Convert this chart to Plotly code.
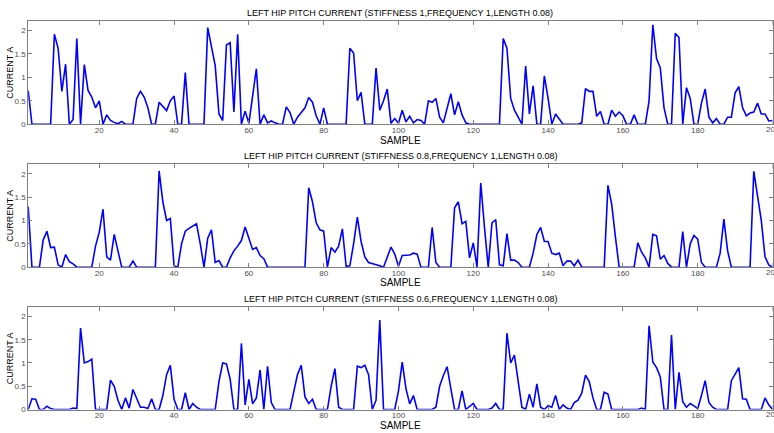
import plotly.graph_objects as go

# Sample index shared by all three recordings
samples = list(range(1, 201))

# Left hip pitch current (A), stiffness 1.0
current_stiff_1_0 = [
    0.72, 0, 0, 0, 0, 0, 0, 1.92, 1.62, 0.7,
    1.28, 0, 0.1, 1.83, 0, 1.27, 0.72, 0.58, 0.35, 0.5,
    0, 0.2, 0.08, 0.04, 0.01, 0.06, 0, 0, 0, 0.55,
    0.7, 0.58, 0.35, 0, 0, 0.47, 0.38, 0.29, 0.5, 0.6,
    0, 0, 1.1, 0, 0, 0, 0, 0, 2.06, 1.67,
    1.25, 0.22, 0.08, 1.69, 1.74, 0.26, 1.92, 0, 0.28, 0.02,
    0.6, 1.18, 0, 0.2, 0.03, 0.07, 0.03, 0, 0, 0.37,
    0.25, 0, 0.15, 0.25, 0.35, 0.57, 0.47, 0.18, 0, 0.35,
    0, 0, 0, 0, 0, 0, 1.62, 1.52, 0.5, 0.68,
    0, 0, 0, 1.2, 0.3, 0.5, 0.75, 0.02, 0.12, 0.02,
    0.3, 0.05, 0.17, 0.03, 0.1, 0.08, 0, 0.5, 0.47, 0.55,
    0.15, 0.03, 0.35, 0.65, 0.2, 0.48, 0.2, 0.03, 0, 0,
    0, 0, 0, 0, 0, 0, 0, 1.83, 1.62, 0.55,
    0.3, 0.15, 0, 1.24, 0.22, 0.82, 0, 0, 1.03, 0.55,
    0, 0.22, 0.1, 0, 0, 0, 0, 0, 0.03, 0.76,
    0.7, 0.7, 0.17, 0.27, 0, 0, 0.3, 0.17, 0.26, 0.18,
    0, 0, 0.2, 0, 0, 0, 0.5, 2.12, 1.4, 1.2,
    0.35, 0, 0, 1.94, 1.85, 0, 0.78, 0.55, 0, 0,
    0.45, 0.75, 0.15, 0.03, 0.12, 0, 0, 0.15, 0.15, 0.67,
    0.8, 0.35, 0.18, 0.24, 0.26, 0.45, 0.22, 0.22, 0.07, 0.08,
]

# Left hip pitch current (A), stiffness 0.8
current_stiff_0_8 = [
    1.3, 0, 0, 0, 0.58, 0.77, 0.42, 0.43, 0.05, 0,
    0.27, 0.12, 0.07, 0, 0, 0, 0, 0, 0.45, 0.75,
    1.24, 0.22, 0.15, 0.7, 0.35, 0, 0, 0, 0.13, 0,
    0, 0, 0, 0, 0, 2.06, 1.4, 1.0, 1.04, 0.03,
    0, 0.5, 0.77, 0.83, 0.88, 0.93, 0.5, 0, 0.62, 0.8,
    0.1, 0.14, 0, 0, 0.2, 0.35, 0.45, 0.57, 0.86, 0.6,
    0.38, 0.42, 0.25, 0.18, 0, 0, 0, 0, 0, 0,
    0, 0, 0, 0, 0, 1.7, 1.4, 0.95, 0.8, 0.77,
    0, 0.42, 0.32, 0.45, 0.82, 0.02, 0.03, 0.5, 1.07, 0.55,
    0.22, 0.1, 0.08, 0.05, 0.03, 0, 0.2, 0.43, 0.28, 0.02,
    0.25, 0.25, 0.26, 0.3, 0.28, 0, 0, 0, 0.85, 0.1,
    0, 0, 0, 0, 1.27, 1.4, 0.93, 0.98, 0.2, 0.52,
    0, 1.8, 0.85, 0, 0.95, 1.02, 0.05, 0.03, 0.72, 0.15,
    0.15, 0.1, 0, 0, 0, 0.3, 0.7, 0.85, 0.55, 0.55,
    0.3, 0.27, 0.3, 0.03, 0.13, 0.13, 0.03, 0.15, 0, 0,
    0, 0, 0, 0, 0, 1.75, 1.35, 0.65, 0, 0,
    0, 0, 0, 0.52, 0.32, 0.2, 0, 0.7, 0.67, 0.17,
    0.25, 0.08, 0, 0, 0, 0.76, 0, 0.5, 0.68, 0.6,
    0.1, 0, 0, 0, 0, 0.3, 1.03, 0.35, 0, 0,
    0, 0, 0, 0, 2.05, 1.5, 1.0, 0.22, 0.05, 0,
]

# Left hip pitch current (A), stiffness 0.6
current_stiff_0_6 = [
    0, 0.23, 0.22, 0, 0, 0.07, 0.02, 0, 0, 0,
    0, 0, 0.03, 0.02, 1.75, 1.0, 1.03, 1.08, 0, 0,
    0, 0, 0.63, 0.5, 0.2, 0, 0.25, 0.03, 0.43, 0.23,
    0.05, 0.05, 0.02, 0.23, 0, 0, 0.3, 0.75, 0.95, 0.22,
    0, 0, 0.36, 0, 0.13, 0.05, 0, 0, 0, 0,
    0, 0.6, 1.0, 0.98, 0.65, 0, 0, 1.42, 0.1, 0.65,
    0.12, 0.25, 0.85, 0, 0.93, 0.15, 0, 0, 0, 0,
    0, 0.38, 0.75, 0.95, 0.27, 0.13, 0.22, 0, 0, 0,
    0, 0.5, 0.88, 0.05, 0, 0, 0, 0, 0.93, 0.9,
    0.95, 0.75, 0, 0.2, 1.92, 0, 0, 0, 0, 0.4,
    1.02, 0.45, 0.12, 0.3, 0, 0, 0, 0, 0, 0.05,
    0.5, 0.73, 0.92, 0.45, 0, 0, 0.4, 0, 0.07, 0.13,
    0, 0, 0, 0, 0.03, 0.13, 0, 0, 1.64, 1.0,
    1.17, 0.6, 0.05, 0, 0.33, 0.05, 0.55, 0.05, 0, 0.08,
    0.05, 0.3, 0, 0.1, 0.03, 0, 0.15, 0.2, 0.35, 0.74,
    0.6, 0.25, 0, 0, 0.37, 0.33, 0, 0, 0, 0,
    0, 0, 0, 0, 0.03, 0, 1.8, 1.02, 0.9, 0.7,
    0, 0, 1.6, 0, 0.8, 0.17, 0.05, 0.13, 0.08, 0.02,
    0.3, 0.62, 0.15, 0.05, 0, 0, 0, 0, 0.62, 0.75,
    0.9, 0.23, 0.22, 0, 0, 0, 0, 0.25, 0.1, 0,
]

titles = [
    "LEFT HIP PITCH CURRENT (STIFFNESS 1,FREQUENCY 1,LENGTH 0.08)",
    "LEFT HIP PITCH CURRENT (STIFFNESS 0.8,FREQUENCY 1,LENGTH 0.08)",
    "LEFT HIP PITCH CURRENT (STIFFNESS 0.6,FREQUENCY 1,LENGTH 0.08)",
]
x_label = "SAMPLE"
y_label = "CURRENT A"
x_ticks = [20, 40, 60, 80, 100, 120, 140, 160, 180]
x_last_tick = 200
y_ticks = [0, 0.5, 1, 1.5, 2]
y_tick_text = ["0", "0.5", "1", "1.5", "2"]

W, H = 774, 433
FONT = "Liberation Sans, Arial, sans-serif"
TICK_FONT = dict(family=FONT, size=8, color="#4d4d4d")

# Pixel layout of each axes box (top, bottom) and the shared left/right edges
x_left, x_right = 28.2, 772.5
panels_px = [(21.3, 125.7), (166.3, 270.3), (310.7, 414.3)]


def fy(px):
    return 1 - px / H


series = [current_stiff_1_0, current_stiff_0_8, current_stiff_0_6]

fig = go.Figure()
annotations = []
shapes = []
for i, (vals, (top, bot)) in enumerate(zip(series, panels_px)):
    sfx = "" if i == 0 else str(i + 1)
    fig.add_trace(go.Scatter(
        x=samples, y=vals, mode="lines",
        line=dict(color="#0000FF", width=1.6),
        xaxis="x" + sfx, yaxis="y" + sfx,
        showlegend=False, hoverinfo="x+y",
    ))
    axis_common = dict(
        showline=True, mirror="ticks", linecolor="#7f7f7f", linewidth=1,
        ticks="inside", ticklen=4, tickcolor="#7f7f7f",
        showgrid=False, zeroline=False, tickfont=TICK_FONT,
    )
    fig.layout["xaxis" + sfx] = dict(
        axis_common, domain=[x_left / W, x_right / W], range=[1, 200],
        tickvals=x_ticks, anchor="y" + sfx, ticklabelstandoff=-2,
    )
    fig.layout["yaxis" + sfx] = dict(
        axis_common, domain=[fy(bot), fy(top)], range=[0, 2.2],
        tickvals=y_ticks, ticktext=y_tick_text, anchor="x" + sfx,
    )
    # last x tick sits on the right edge of the box; its label runs off the page
    annotations.append(dict(
        text=str(x_last_tick), x=x_last_tick, xref="x" + sfx,
        y=fy(bot + 5), yref="paper", xanchor="center", yanchor="middle",
        showarrow=False, font=TICK_FONT,
    ))
    for ty in (top, bot):
        y0 = fy(ty)
        y1 = fy(ty + 4) if ty == top else fy(ty - 4)
        shapes.append(dict(
            type="line", xref="x" + sfx, yref="paper",
            x0=x_last_tick, x1=x_last_tick, y0=y0, y1=y1,
            line=dict(color="#7f7f7f", width=1),
        ))
    mid_x = (x_left + x_right) / 2 / W
    annotations.append(dict(
        text=titles[i], x=mid_x, y=fy(top - 8), xref="paper", yref="paper",
        xanchor="center", yanchor="middle", showarrow=False,
        font=dict(family=FONT, size=9, color="#000000"),
    ))
    annotations.append(dict(
        text=x_label, x=mid_x, y=fy(bot + 16), xref="paper", yref="paper",
        xanchor="center", yanchor="middle", showarrow=False,
        font=dict(family=FONT, size=10, color="#000000"),
    ))
    annotations.append(dict(
        text=y_label, x=10 / W, y=fy((top + bot) / 2), xref="paper", yref="paper",
        xanchor="center", yanchor="middle", showarrow=False, textangle=-90,
        font=dict(family=FONT, size=9, color="#000000"),
    ))

fig.update_layout(
    width=W, height=H,
    margin=dict(l=0, r=0, t=0, b=0),
    paper_bgcolor="white", plot_bgcolor="white",
    annotations=annotations, shapes=shapes,
)

fig.write_html("out.html")
